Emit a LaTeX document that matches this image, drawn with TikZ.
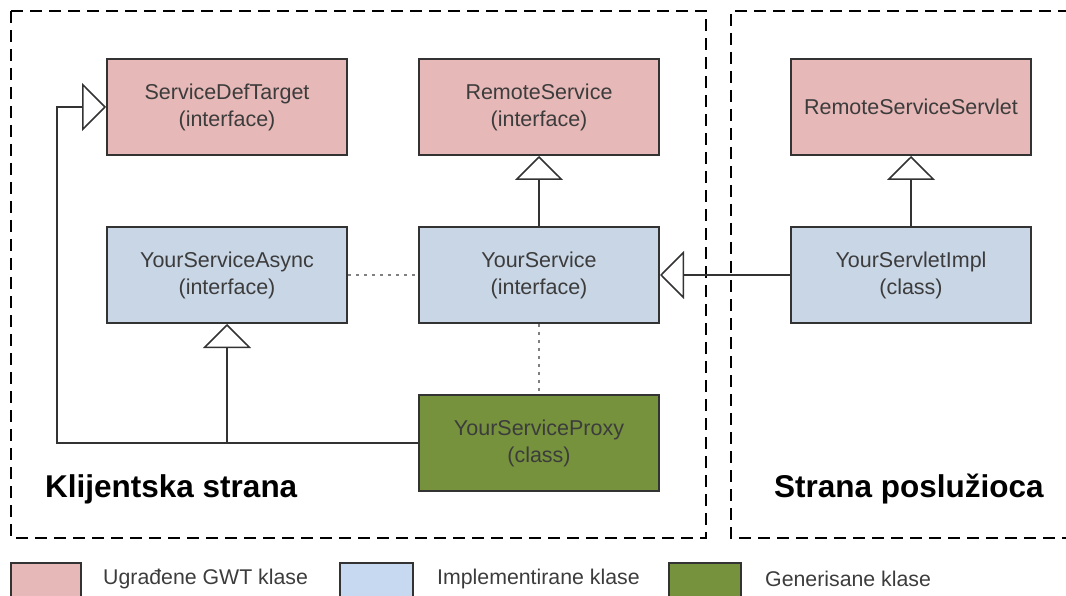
\documentclass[tikz,border=0pt]{standalone}
\usepackage{fontspec}
\setmainfont{Liberation Sans}
\usetikzlibrary{arrows.meta}
\definecolor{gwtpink}{HTML}{E6B8B7}
\definecolor{implblue}{HTML}{C9D6E6}
\definecolor{legblue}{HTML}{C6D9F0}
\definecolor{genGreen}{HTML}{76923C}
\definecolor{edge}{HTML}{333333}
\definecolor{txt}{HTML}{3C3C3C}
\tikzset{
  cls/.style={draw=edge, line width=2pt, minimum width=240pt, minimum height=96pt,
    inner sep=0pt, align=center, text=txt, font=\fontsize{21.5}{27}\selectfont},
  builtin/.style={cls, fill=gwtpink},
  implemented/.style={cls, fill=implblue},
  generated/.style={cls, fill=genGreen},
  inherit/.style={draw=edge, line width=1.8pt,
    -{Triangle[open, length=24pt, width=48pt, line width=1.5pt, fill=white]}},
  assoc/.style={draw=gray, line width=1.6pt, dash pattern=on 3pt off 5pt},
  region/.style={draw=black, line width=2pt, dash pattern=on 12pt off 7pt},
  regionlabel/.style={font=\fontsize{31.5}{38}\selectfont\bfseries, text=black, inner sep=0pt},
  legendbox/.style={draw=edge, line width=2pt},
  legendtext/.style={font=\fontsize{21.3}{26}\selectfont, text=txt, anchor=west, inner sep=0pt}
}
\begin{document}
\begin{tikzpicture}[x=1pt, y=-1pt]
\useasboundingbox (0,0) rectangle (1066,596);
\clip (0,0) rectangle (1066,596);

% client and server regions
\draw[region] (11,11) rectangle (706,538);
\draw[region] (1070,11) -- (731,11) -- (731,538) -- (1070,538);
\node[regionlabel, anchor=west] (client) at (45,489) {Klijentska strana};
\node[regionlabel, anchor=west] (server) at (774,489) {Strana poslužioca};

% classes
\node[builtin] (sdt) at (227,107) {ServiceDefTarget\\(interface)};
\node[builtin] (rs) at (539,107) {RemoteService\\(interface)};
\node[builtin] (rss) at (911,107) {RemoteServiceServlet};
\node[implemented] (async) at (227,275) {YourServiceAsync\\(interface)};
\node[implemented] (svc) at (539,275) {YourService\\(interface)};
\node[implemented] (impl) at (911,275) {YourServletImpl\\(class)};
\node[generated] (proxy) at (539,443) {YourServiceProxy\\(class)};

% junction points of the proxy's inheritance lines
\coordinate (lcorner) at (57,443);
\coordinate (branch) at (227,443);

% generalisations
\draw[inherit] (svc.north) -- (rs.south);
\draw[inherit] (impl.north) -- (rss.south);
\draw[inherit] (impl.west) -- (svc.east);
\draw[inherit] (proxy.west) -- (lcorner) |- (sdt.west);
\draw[inherit] (branch) -- (async.south);

% associations
\draw[assoc] (async.east) -- (svc.west);
\draw[assoc] (svc.south) -- (proxy.north);

% legend
\draw[legendbox, fill=gwtpink] (11,563) rectangle (81,600);
\node[legendtext] (l1) at (103,579) {Ugrađene GWT klase};
\draw[legendbox, fill=legblue] (340,563) rectangle (413,600);
\node[legendtext] (l2) at (437,579) {Implementirane klase};
\draw[legendbox, fill=genGreen] (669,563) rectangle (741,600);
\node[legendtext] (l3) at (765,579) {Generisane klase};
\end{tikzpicture}
\end{document}
